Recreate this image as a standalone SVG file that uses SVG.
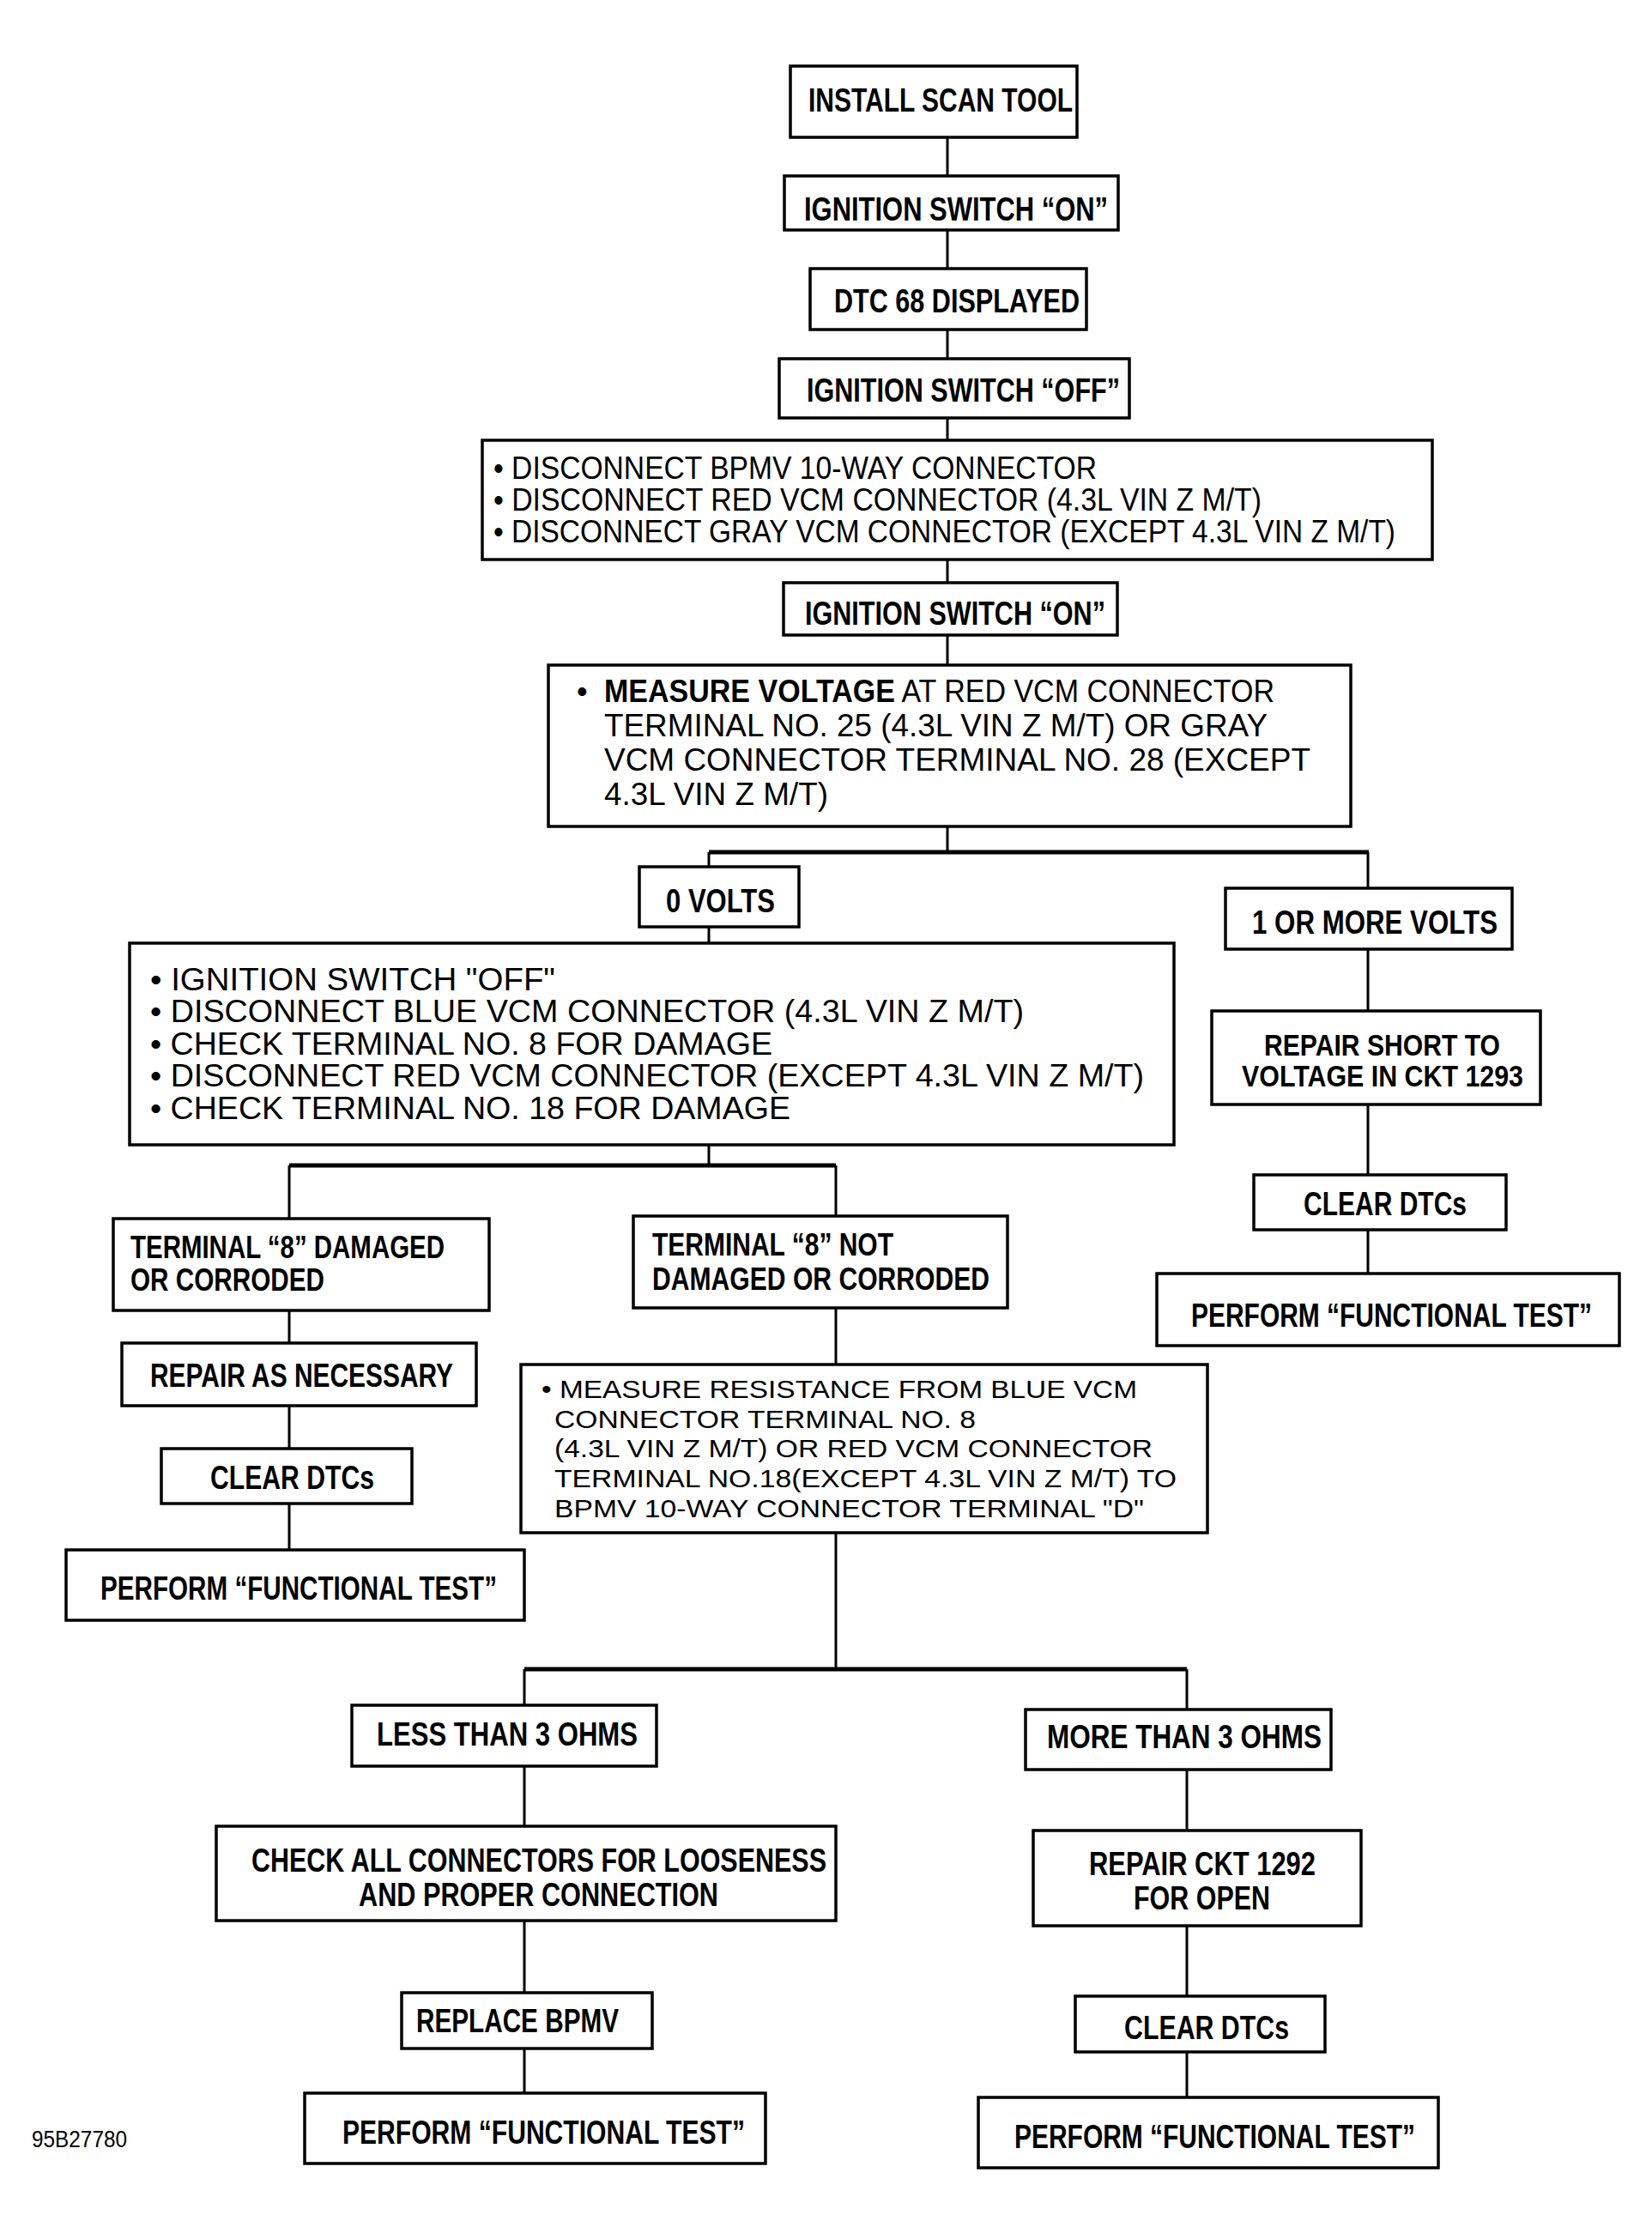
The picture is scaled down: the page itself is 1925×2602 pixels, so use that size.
<svg xmlns="http://www.w3.org/2000/svg" width="1925" height="2602" viewBox="0 0 1925 2602">
<style>
.bx{fill:#fff;stroke:#000;stroke-width:3.5}
.ln{stroke:#000;stroke-width:3;fill:none}
.hl{stroke:#000;stroke-width:5;fill:none}
text{font-family:"Liberation Sans",Arial,sans-serif;fill:#000}
.lb{font-size:38px;font-weight:bold}
.lb2{font-size:36px;font-weight:bold}
.lb3{font-size:35px;font-weight:bold}
.bl{font-size:36px}
.bv{font-size:36px}
.br{font-size:30px}
.b{font-weight:bold}
.tag{font-size:27px}
</style>
<rect width="1925" height="2602" fill="#fff"/>
<g id="connectors">
<path class="ln" d="M1104 160V205M1104 268V313M1104 384V418M1104 487V513M1104 652V679M1104 740V775M1104 963V993"/>
<path class="hl" d="M826 993H1595"/>
<path class="ln" d="M826 993V1010M826 1080V1099M826 1334V1358"/>
<path class="ln" d="M1594 993V1035M1594 1106V1178M1594 1287V1369M1594 1433V1484"/>
<path class="hl" d="M337 1358H974"/>
<path class="ln" d="M337 1358V1420M337 1527V1565M337 1638V1688M337 1752V1806"/>
<path class="ln" d="M974 1358V1417M974 1524V1590M974 1786V1945"/>
<path class="hl" d="M611 1945H1383"/>
<path class="ln" d="M611 1945V1987M611 2058V2128M611 2238V2322M611 2387V2439"/>
<path class="ln" d="M1383 1945V1992M1383 2062V2133M1383 2244V2326M1383 2391V2444"/>
</g>
<g id="n1"><rect class="bx" x="921" y="77" width="334" height="83"/><text class="lb" x="942" y="130" textLength="308" lengthAdjust="spacingAndGlyphs">INSTALL SCAN TOOL</text></g>
<g id="n2"><rect class="bx" x="914" y="205" width="389" height="63"/><text class="lb" x="937" y="257" textLength="354" lengthAdjust="spacingAndGlyphs">IGNITION SWITCH “ON”</text></g>
<g id="n3"><rect class="bx" x="944" y="313" width="322" height="71"/><text class="lb" x="972" y="364" textLength="286" lengthAdjust="spacingAndGlyphs">DTC 68 DISPLAYED</text></g>
<g id="n4"><rect class="bx" x="908" y="418" width="408" height="69"/><text class="lb" x="940" y="468" textLength="365" lengthAdjust="spacingAndGlyphs">IGNITION SWITCH “OFF”</text></g>
<g id="n5"><rect class="bx" x="562" y="513" width="1107" height="139"/>
<text class="bl" x="575" y="558" textLength="703" lengthAdjust="spacingAndGlyphs">• DISCONNECT BPMV 10-WAY CONNECTOR</text>
<text class="bl" x="575" y="595" textLength="895" lengthAdjust="spacingAndGlyphs">• DISCONNECT RED  VCM CONNECTOR (4.3L VIN Z M/T)</text>
<text class="bl" x="575" y="632" textLength="1051" lengthAdjust="spacingAndGlyphs">• DISCONNECT GRAY VCM CONNECTOR (EXCEPT 4.3L VIN Z M/T)</text></g>
<g id="n6"><rect class="bx" x="913" y="679" width="389" height="61"/><text class="lb" x="938" y="728" textLength="350" lengthAdjust="spacingAndGlyphs">IGNITION SWITCH “ON”</text></g>
<g id="n7"><rect class="bx" x="639" y="775" width="935" height="188"/>
<text class="bv" x="672" y="818">•</text>
<text class="bv" x="704" y="818" textLength="781" lengthAdjust="spacingAndGlyphs"><tspan class="b">MEASURE VOLTAGE</tspan> AT RED VCM CONNECTOR</text>
<text class="bv" x="704" y="858" textLength="773" lengthAdjust="spacingAndGlyphs">TERMINAL NO. 25 (4.3L VIN Z M/T) OR GRAY</text>
<text class="bv" x="704" y="898" textLength="823" lengthAdjust="spacingAndGlyphs">VCM CONNECTOR TERMINAL NO. 28 (EXCEPT</text>
<text class="bv" x="704" y="938" textLength="261" lengthAdjust="spacingAndGlyphs">4.3L VIN Z M/T)</text></g>
<g id="n8"><rect class="bx" x="745" y="1010" width="186" height="70"/><text class="lb" x="776" y="1063" textLength="127" lengthAdjust="spacingAndGlyphs">0 VOLTS</text></g>
<g id="n9"><rect class="bx" x="1428" y="1035" width="334" height="71"/><text class="lb" x="1459" y="1088" textLength="286" lengthAdjust="spacingAndGlyphs">1 OR MORE VOLTS</text></g>
<g id="n10"><rect class="bx" x="151" y="1099" width="1217" height="235"/>
<text class="bl" x="175" y="1154" textLength="472" lengthAdjust="spacingAndGlyphs">•  IGNITION SWITCH "OFF"</text>
<text class="bl" x="175" y="1191" textLength="1018" lengthAdjust="spacingAndGlyphs">•  DISCONNECT BLUE VCM CONNECTOR (4.3L VIN Z M/T)</text>
<text class="bl" x="175" y="1229" textLength="725" lengthAdjust="spacingAndGlyphs">•  CHECK TERMINAL NO. 8 FOR DAMAGE</text>
<text class="bl" x="175" y="1266" textLength="1158" lengthAdjust="spacingAndGlyphs">•  DISCONNECT RED VCM CONNECTOR (EXCEPT 4.3L VIN Z M/T)</text>
<text class="bl" x="175" y="1304" textLength="746" lengthAdjust="spacingAndGlyphs">•  CHECK TERMINAL NO. 18 FOR DAMAGE</text></g>
<g id="n11"><rect class="bx" x="132" y="1420" width="438" height="107"/>
<text class="lb2" x="152" y="1466" textLength="366" lengthAdjust="spacingAndGlyphs">TERMINAL “8” DAMAGED</text>
<text class="lb2" x="152" y="1504" textLength="226" lengthAdjust="spacingAndGlyphs">OR CORRODED</text></g>
<g id="n12"><rect class="bx" x="738" y="1417" width="436" height="107"/>
<text class="lb2" x="760" y="1463" textLength="281" lengthAdjust="spacingAndGlyphs">TERMINAL “8” NOT</text>
<text class="lb2" x="760" y="1503" textLength="393" lengthAdjust="spacingAndGlyphs">DAMAGED OR CORRODED</text></g>
<g id="n13"><rect class="bx" x="142" y="1565" width="413" height="73"/><text class="lb" x="175" y="1616" textLength="353" lengthAdjust="spacingAndGlyphs">REPAIR AS NECESSARY</text></g>
<g id="n14"><rect class="bx" x="188" y="1688" width="292" height="64"/><text class="lb" x="245" y="1735" textLength="191" lengthAdjust="spacingAndGlyphs">CLEAR DTCs</text></g>
<g id="n15"><rect class="bx" x="77" y="1806" width="534" height="82"/><text class="lb" x="117" y="1864" textLength="462" lengthAdjust="spacingAndGlyphs">PERFORM “FUNCTIONAL TEST”</text></g>
<g id="n16"><rect class="bx" x="607" y="1590" width="800" height="196"/>
<text class="br" x="631" y="1629" textLength="694" lengthAdjust="spacingAndGlyphs">• MEASURE RESISTANCE FROM BLUE VCM</text>
<text class="br" x="646" y="1664" textLength="491" lengthAdjust="spacingAndGlyphs">CONNECTOR TERMINAL NO. 8</text>
<text class="br" x="646" y="1698" textLength="697" lengthAdjust="spacingAndGlyphs">(4.3L VIN Z M/T) OR RED VCM CONNECTOR</text>
<text class="br" x="646" y="1733" textLength="725" lengthAdjust="spacingAndGlyphs">TERMINAL NO.18(EXCEPT 4.3L VIN Z M/T) TO</text>
<text class="br" x="646" y="1768" textLength="687" lengthAdjust="spacingAndGlyphs">BPMV 10-WAY CONNECTOR TERMINAL "D"</text></g>
<g id="n17"><rect class="bx" x="1412" y="1178" width="383" height="109"/>
<text class="lb3" x="1473" y="1230" textLength="275" lengthAdjust="spacingAndGlyphs">REPAIR SHORT TO</text>
<text class="lb3" x="1447" y="1266" textLength="328" lengthAdjust="spacingAndGlyphs">VOLTAGE IN CKT 1293</text></g>
<g id="n18"><rect class="bx" x="1461" y="1369" width="294" height="64"/><text class="lb" x="1519" y="1416" textLength="190" lengthAdjust="spacingAndGlyphs">CLEAR DTCs</text></g>
<g id="n19"><rect class="bx" x="1348" y="1484" width="539" height="84"/><text class="lb" x="1388" y="1546" textLength="467" lengthAdjust="spacingAndGlyphs">PERFORM “FUNCTIONAL TEST”</text></g>
<g id="n20"><rect class="bx" x="410" y="1987" width="355" height="71"/><text class="lb" x="439" y="2034" textLength="304" lengthAdjust="spacingAndGlyphs">LESS THAN 3 OHMS</text></g>
<g id="n21"><rect class="bx" x="1195" y="1992" width="356" height="70"/><text class="lb" x="1220" y="2037" textLength="320" lengthAdjust="spacingAndGlyphs">MORE THAN 3 OHMS</text></g>
<g id="n22"><rect class="bx" x="252" y="2128" width="722" height="110"/>
<text class="lb" x="293" y="2181" textLength="670" lengthAdjust="spacingAndGlyphs">CHECK ALL CONNECTORS FOR LOOSENESS</text>
<text class="lb" x="418" y="2221" textLength="419" lengthAdjust="spacingAndGlyphs">AND PROPER CONNECTION</text></g>
<g id="n23"><rect class="bx" x="1204" y="2133" width="382" height="111"/>
<text class="lb" x="1269" y="2185" textLength="264" lengthAdjust="spacingAndGlyphs">REPAIR CKT 1292</text>
<text class="lb" x="1321" y="2225" textLength="159" lengthAdjust="spacingAndGlyphs">FOR OPEN</text></g>
<g id="n24"><rect class="bx" x="468" y="2322" width="292" height="65"/><text class="lb" x="485" y="2368" textLength="236" lengthAdjust="spacingAndGlyphs">REPLACE BPMV</text></g>
<g id="n25"><rect class="bx" x="1253" y="2326" width="291" height="65"/><text class="lb" x="1310" y="2376" textLength="192" lengthAdjust="spacingAndGlyphs">CLEAR DTCs</text></g>
<g id="n26"><rect class="bx" x="355" y="2439" width="537" height="82"/><text class="lb" x="399" y="2498" textLength="469" lengthAdjust="spacingAndGlyphs">PERFORM “FUNCTIONAL TEST”</text></g>
<g id="n27"><rect class="bx" x="1140" y="2444" width="536" height="82"/><text class="lb" x="1182" y="2503" textLength="467" lengthAdjust="spacingAndGlyphs">PERFORM “FUNCTIONAL TEST”</text></g>
<text class="tag" x="37" y="2502" textLength="111" lengthAdjust="spacingAndGlyphs">95B27780</text>
</svg>
